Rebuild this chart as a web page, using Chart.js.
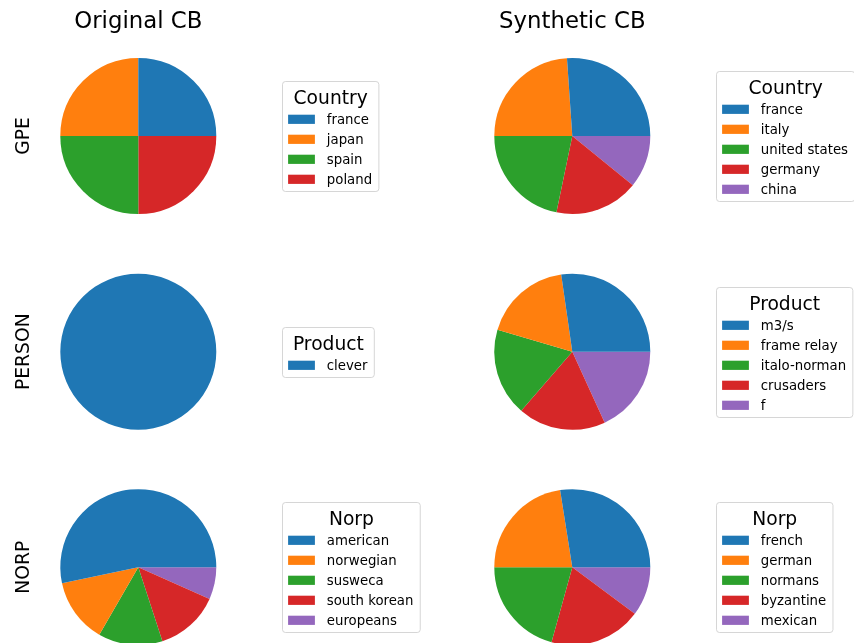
<!DOCTYPE html>
<html>
<head>
<meta charset="utf-8">
<script src="https://cdn.jsdelivr.net/npm/chart.js@4/dist/chart.umd.min.js"></script>
<style>
  html, body { margin: 0; padding: 0; background: #ffffff; }
  #wrap { position: relative; width: 854px; height: 643px; overflow: hidden; background: #ffffff; }
  canvas { position: absolute; }
</style>
</head>
<body>
<div id="wrap"></div>
<script>
// ---- data ----
const columnTitles = ["Original CB", "Synthetic CB"];
const rowLabels = ["GPE", "PERSON", "NORP"];
const legendTitles = ["Country", "Product", "Norp"];

const origGpeLabels = ["france", "japan", "spain", "poland"];
const origGpeValues = [1, 1, 1, 1];
const origPersonLabels = ["clever"];
const origPersonValues = [1];
const origNorpLabels = ["american", "norwegian", "susweca", "south korean", "europeans"];
const origNorpValues = [8, 2, 2, 2, 1];

const synGpeLabels = ["france", "italy", "united states", "germany", "china"];
const synGpeValues = [12, 11, 10, 8, 5];
const synPersonLabels = ["m3/s", "frame relay", "italo-norman", "crusaders", "f"];
const synPersonValues = [3, 2, 2, 2, 2];
const synNorpLabels = ["french", "german", "normans", "byzantine", "mexican"];
const synNorpValues = [27.5, 22.5, 20.7, 19.1, 10.2];

const palette = ["#1f77b4", "#ff7f0e", "#2ca02c", "#d62728", "#9467bd"];

// ---- layout ----
const FONT = "'DejaVu Sans', 'Liberation Sans', sans-serif";
const R = 78;
const colCenters = [138.3, 572.3];
const rowCenters = [136, 351.7, 567.3];
const colLeft = [0, 427];
const rowTop = [0, 215, 430];
const cellW = 427, cellH = 215;

const cells = [
  [ {labels: origGpeLabels, values: origGpeValues}, {labels: synGpeLabels, values: synGpeValues} ],
  [ {labels: origPersonLabels, values: origPersonValues}, {labels: synPersonLabels, values: synPersonValues} ],
  [ {labels: origNorpLabels, values: origNorpValues}, {labels: synNorpLabels, values: synNorpValues} ]
];

function makeDecorPlugin(row, col, labels, cx, cy) {
  return {
    id: 'mplDecor' + row + col,
    afterDraw(chart) {
      const ctx = chart.ctx;
      ctx.save();
      // legend (matplotlib style)
      const titleFont = "18.7px " + FONT;
      const labelFont = "13.3px " + FONT;
      ctx.font = titleFont;
      const titleW = ctx.measureText(legendTitles[row]).width;
      ctx.font = labelFont;
      let maxLab = 0;
      labels.forEach(l => { maxLab = Math.max(maxLab, ctx.measureText(l).width); });
      const contentW = Math.max(titleW, 38.7 + maxLab);
      const boxW = contentW + 12.4;
      const n = labels.length;
      const boxH = 50 + 20 * (n - 1);
      const bx = Math.round(cx + 143.5) + 0.5;
      const by = Math.round(cy - boxH / 2) + 0.5;
      // frame
      const rr = 3;
      ctx.beginPath();
      ctx.moveTo(bx + rr, by);
      ctx.lineTo(bx + boxW - rr, by);
      ctx.quadraticCurveTo(bx + boxW, by, bx + boxW, by + rr);
      ctx.lineTo(bx + boxW, by + boxH - rr);
      ctx.quadraticCurveTo(bx + boxW, by + boxH, bx + boxW - rr, by + boxH);
      ctx.lineTo(bx + rr, by + boxH);
      ctx.quadraticCurveTo(bx, by + boxH, bx, by + boxH - rr);
      ctx.lineTo(bx, by + rr);
      ctx.quadraticCurveTo(bx, by, bx + rr, by);
      ctx.closePath();
      ctx.fillStyle = "rgba(255,255,255,0.8)";
      ctx.fill();
      ctx.strokeStyle = "rgba(204,204,204,0.8)";
      ctx.lineWidth = 1;
      ctx.stroke();
      // title
      ctx.fillStyle = "#000000";
      ctx.font = titleFont;
      ctx.textAlign = "center";
      ctx.textBaseline = "alphabetic";
      ctx.fillText(legendTitles[row], bx + boxW / 2, by + 22);
      // entries
      ctx.font = labelFont;
      ctx.textAlign = "left";
      labels.forEach((l, i) => {
        const ey = by + 37.8 + 20 * i;
        ctx.fillStyle = palette[i % palette.length];
        ctx.fillRect(bx + 5.6, ey - 4.6, 26.8, 9.2);
        ctx.fillStyle = "#000000";
        ctx.fillText(l, bx + 44.3, ey + 4.6);
      });
      // row label (left column only)
      if (col === 0) {
        ctx.save();
        ctx.font = "18.7px " + FONT;
        ctx.fillStyle = "#000000";
        ctx.translate(cx - 109.8, cy);
        ctx.rotate(-Math.PI / 2);
        ctx.textAlign = "center";
        ctx.textBaseline = "alphabetic";
        ctx.fillText(rowLabels[row], 0, 0);
        ctx.restore();
      }
      // column title (top row only)
      if (row === 0) {
        ctx.font = "22.8px " + FONT;
        ctx.fillStyle = "#000000";
        ctx.textAlign = "center";
        ctx.textBaseline = "alphabetic";
        ctx.fillText(columnTitles[col], cx, 27.5);
      }
      ctx.restore();
    }
  };
}

const wrap = document.getElementById('wrap');
for (let r = 0; r < 3; r++) {
  for (let c = 0; c < 2; c++) {
    const cell = cells[r][c];
    const canvas = document.createElement('canvas');
    canvas.width = cellW;
    canvas.height = cellH;
    canvas.style.left = colLeft[c] + 'px';
    canvas.style.top = rowTop[r] + 'px';
    canvas.style.width = cellW + 'px';
    canvas.style.height = cellH + 'px';
    wrap.appendChild(canvas);

    const cx = colCenters[c] - colLeft[c];
    const cy = rowCenters[r] - rowTop[r];
    // matplotlib draws counter-clockwise from 3 o'clock; Chart.js draws clockwise,
    // so feed the wedges in reverse order starting at 3 o'clock.
    const revValues = cell.values.slice().reverse();
    const revColors = cell.values.map((v, i) => palette[i % palette.length]).reverse();
    const revLabels = cell.labels.slice().reverse();

    new Chart(canvas, {
      type: 'pie',
      data: {
        labels: revLabels,
        datasets: [{
          data: revValues,
          backgroundColor: revColors,
          borderWidth: 0,
          hoverOffset: 0,
          offset: 0
        }]
      },
      options: {
        responsive: false,
        animation: false,
        devicePixelRatio: 1,
        events: [],
        rotation: 90,
        radius: R,
        layout: {
          padding: {
            left: cx - R,
            right: cellW - (cx + R),
            top: cy - R,
            bottom: cellH - (cy + R)
          }
        },
        plugins: {
          legend: { display: false },
          tooltip: { enabled: false },
          title: { display: false }
        }
      },
      plugins: [makeDecorPlugin(r, c, cell.labels, cx, cy)]
    });
  }
}
</script>
</body>
</html>
